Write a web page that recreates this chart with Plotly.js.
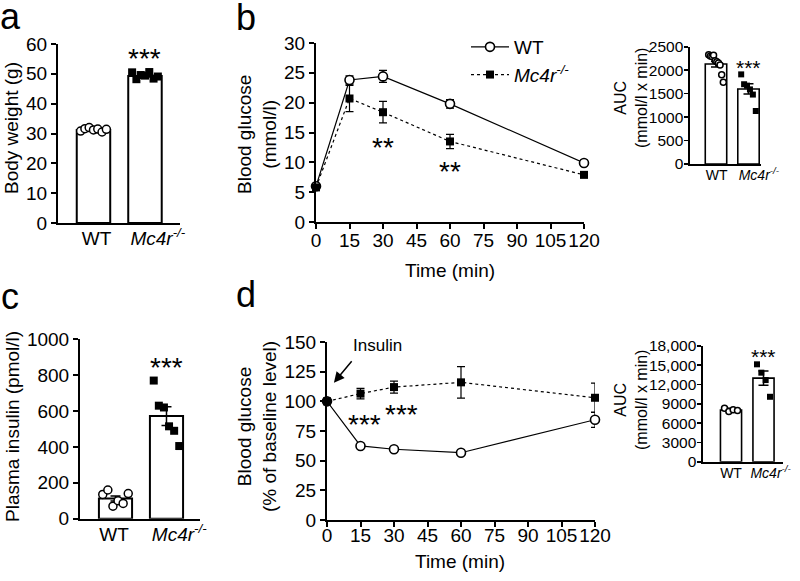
<!DOCTYPE html>
<html><head><meta charset="utf-8">
<script src="https://cdn.plot.ly/plotly-3.0.1.min.js"></script>
<style>html,body{margin:0;padding:0;background:#fff}#chart{width:800px;height:581px}</style>
</head><body><div id="chart"></div>
<script>
// ---------------- data ----------------
const groups = ['WT', '<i>Mc4r<sup>-/-</sup></i>'];

// a: body weight (g)
const bwMean = [31.2, 49.3];
const bwSem = [0.25, 0.35];
const bwWT = [30.8, 31.6, 32.0, 31.2, 31.5, 30.5, 31.4];
const bwKO = [50.5, 48.2, 49.6, 49.4, 50.6, 48.4, 49.1];

// b: glucose tolerance test (mmol/l)
const gttTime = [0, 15, 30, 60, 120];
const gttWT = [6.0, 23.8, 24.4, 19.8, 9.9];
const gttWTsem = [0.3, 0.7, 1.0, 0.7, 0.3];
const gttKO = [5.8, 20.7, 18.4, 13.5, 7.9];
const gttKOsem = [0.3, 2.2, 1.8, 1.2, 0.3];
const gttAucMean = [2130, 1600];
const gttAucSem = [60, 110];
const gttAucWT = [2330, 2300, 2290, 2320, 2200, 2180, 2150, 2110, 1900, 1740];
const gttAucKO = [1910, 1700, 1670, 1590, 1480, 1130];

// c: plasma insulin (pmol/l)
const insMean = [112, 572];
const insSem = [14, 52];
const insWT = [135, 160, 70, 100, 85, 140];
const insKO = [770, 630, 620, 515, 490, 405];

// d: insulin tolerance test (% of baseline)
const ittTime = [0, 15, 30, 60, 120];
const ittWT = [100, 62.4, 59.6, 56.7, 84.5];
const ittWTsem = [0, 1.2, 1.2, 1.2, 6.5];
const ittKO = [100, 106.5, 112, 116, 103];
const ittKOsem = [0, 4.5, 5, 13.3, 12.4];
const ittAucMean = [8050, 13000];
const ittAucSem = [250, 1100];
const ittAucWT = [8300, 7800, 8100, 7950];
const ittAucKO = [15150, 13850, 12700, 10100];
const ittAucTicks = [0, 3000, 6000, 9000, 12000, 15000, 18000];
const ittAucTickText = ['0', '3000', '6000', '9000', '12,000', '15,000', '18,000'];

// ---------------- helpers ----------------
const PX = v => v / 800;
const PY = v => 1 - v / 581;
const FONT = 'Liberation Sans, Arial, Helvetica, sans-serif';

function spreadX(c, n, spread) {
  return Array.from({length: n}, (_, k) => c + (n > 1 ? (k - (n - 1) / 2) * spread / (n - 1) : 0));
}
function barTraces(xa, ya, mean, sem, wt, ko, width, msize, spread, lw) {
  return [
    {type: 'bar', x: [0, 1], y: mean, width: width, xaxis: xa, yaxis: ya,
     marker: {color: 'white', line: {color: 'black', width: lw}},
     error_y: {type: 'data', array: sem, visible: true, color: 'black', thickness: 1.5, width: 5},
     showlegend: false, hoverinfo: 'skip'},
    {type: 'scatter', mode: 'markers', x: spreadX(0, wt.length, spread), y: wt, xaxis: xa, yaxis: ya,
     marker: {symbol: 'circle', size: msize, color: 'white', line: {color: 'black', width: 1.5}},
     showlegend: false, cliponaxis: false},
    {type: 'scatter', mode: 'markers', x: spreadX(1, ko.length, spread), y: ko, xaxis: xa, yaxis: ya,
     marker: {symbol: 'square', size: msize, color: 'black'},
     showlegend: false, cliponaxis: false}
  ];
}
function lineTraces(xa, ya, t, wt, wtSem, ko, koSem, legend) {
  return [
    {type: 'scatter', mode: 'lines+markers', x: t, y: wt, xaxis: xa, yaxis: ya, name: 'WT',
     line: {color: 'black', width: 1.2},
     marker: {symbol: 'circle', size: 9, color: 'white', line: {color: 'black', width: 1.6}},
     error_y: {type: 'data', array: wtSem, visible: true, color: 'black', thickness: 1.2, width: 4},
     showlegend: legend, cliponaxis: false},
    {type: 'scatter', mode: 'lines+markers', x: t, y: ko, xaxis: xa, yaxis: ya, name: groups[1],
     line: {color: 'black', width: 1.2, dash: 'dot'},
     marker: {symbol: 'square', size: 8, color: 'black'},
     error_y: {type: 'data', array: koSem, visible: true, color: 'black', thickness: 1.2, width: 4},
     showlegend: legend, cliponaxis: false}
  ];
}

const traces = [].concat(
  barTraces('x', 'y', bwMean, bwSem, bwWT, bwKO, 0.65, 8, 0.5, 2),
  lineTraces('x2', 'y2', gttTime, gttWT, gttWTsem, gttKO, gttKOsem, true),
  barTraces('x3', 'y3', gttAucMean, gttAucSem, gttAucWT, gttAucKO, 0.66, 6, 0.45, 1.6),
  barTraces('x4', 'y4', insMean, insSem, insWT, insKO, 0.65, 8, 0.5, 2),
  lineTraces('x5', 'y5', ittTime, ittWT, ittWTsem, ittKO, ittKOsem, false),
  barTraces('x6', 'y6', ittAucMean, ittAucSem, ittAucWT, ittAucKO, 0.65, 6, 0.4, 1.6)
);

function ax(extra) {
  return Object.assign({
    showline: true, linecolor: 'black', linewidth: 2, ticks: 'outside', ticklen: 5,
    tickwidth: 2, tickcolor: 'black', showgrid: false, zeroline: false,
    tickfont: {size: 19, color: 'black'}, fixedrange: true, tickangle: 0
  }, extra);
}
// label offsets (in category units) keep the group labels where the reference prints them
function catAx(domain, range, anchor, size, offs, standoff) {
  return ax({domain: domain, range: range, anchor: anchor, tickmode: 'array',
    tickvals: [0 + offs[0], 1 + offs[1]], ticktext: groups, ticks: '',
    tickfont: {size: size, color: 'black'}, ticklabelstandoff: standoff});
}
function insetY(extra) {
  return ax(Object.assign({tickfont: {size: 15.5, color: 'black'}, linewidth: 1.6, tickwidth: 1.6,
    ticklen: 4, ticklabelstandoff: -2}, extra));
}

const layout = {
  width: 800, height: 581,
  margin: {l: 0, r: 0, t: 0, b: 0},
  paper_bgcolor: 'white', plot_bgcolor: 'rgba(0,0,0,0)',
  font: {family: FONT, color: 'black', size: 18},
  showlegend: true,
  legend: {x: PX(466), y: PY(28), xanchor: 'left', yanchor: 'top', font: {size: 19},
           bgcolor: 'rgba(0,0,0,0)', itemwidth: 38, tracegroupgap: 0},
  bargap: 0,
  // a
  xaxis: catAx([PX(58), PX(180)], [-0.689, 1.68], 'y', 19, [0.06, 0.25], -3),
  yaxis: ax({domain: [PY(223), PY(44)], range: [0, 60], dtick: 10, anchor: 'x'}),
  // b
  xaxis2: ax({domain: [PX(316), PX(584)], range: [0, 120], dtick: 15, anchor: 'y2', ticklabelstandoff: -5}),
  yaxis2: ax({domain: [PY(222), PY(43)], range: [0, 30], dtick: 5, anchor: 'x2'}),
  // b AUC
  xaxis3: catAx([PX(690), PX(761)], [-0.8, 1.385], 'y3', 14, [0.02, 0.32], -3),
  yaxis3: insetY({domain: [PY(164), PY(46.7)], range: [0, 2500], dtick: 500, anchor: 'x3'}),
  // c
  xaxis4: catAx([PX(80), PX(200)], [-0.696, 1.657], 'y4', 19, [-0.03, 0.25], -3),
  yaxis4: ax({domain: [PY(518.7), PY(339.3)], range: [0, 1000], dtick: 200, anchor: 'x4'}),
  // d
  xaxis5: ax({domain: [PX(327), PX(595)], range: [0, 120], dtick: 15, anchor: 'y5', ticklabelstandoff: -8}),
  yaxis5: ax({domain: [PY(520), PY(342)], range: [0, 150], dtick: 25, anchor: 'x5'}),
  // d AUC
  xaxis6: catAx([PX(703), PX(783)], [-0.862, 1.6], 'y6', 14, [0, 0.22], -3),
  yaxis6: insetY({domain: [PY(461.7), PY(346)], range: [0, 18000], anchor: 'x6', tickmode: 'array',
              tickvals: ittAucTicks, ticktext: ittAucTickText}),
  annotations: []
};

const A = layout.annotations;
function paperText(text, x, y, size, angle) {
  A.push({text: text, x: PX(x), y: PY(y), xref: 'paper', yref: 'paper', xanchor: 'center',
          yanchor: 'middle', showarrow: false, textangle: angle || 0, font: {size: size, color: 'black'}});
}
function stars(text, xref, yref, x, y, size) {
  A.push({text: text, x: x, y: y, xref: xref, yref: yref, xanchor: 'center', yanchor: 'middle',
          showarrow: false, yshift: -0.22 * size, font: {size: size, color: 'black'}});
}
// panel letters
paperText('a', 10, 16, 36); paperText('b', 246, 17.5, 36);
paperText('c', 10, 296, 36); paperText('d', 246, 294.5, 36);
// axis titles
paperText('Body weight (g)', 12, 128, 19, -90);
paperText('Blood glucose<br>(mmol/l)', 257, 135, 19, -90);
paperText('Time (min)', 450, 270, 19);
paperText('AUC<br>(mmol/l x min)', 631, 98, 16, -90);
paperText('Plasma insulin (pmol/l)', 12, 427, 19, -90);
paperText('Blood glucose<br>(% of baseline level)', 257, 427, 19, -90);
paperText('Time (min)', 460, 561, 19);
paperText('AUC<br>(mmol/l x min)', 631, 400, 16, -90);
// significance stars
stars('***', 'x', 'y', 1, 57.1, 28);
stars('**', 'x2', 'y2', 30, 13.45, 28);
stars('**', 'x2', 'y2', 60, 9.43, 28);
stars('***', 'x3', 'y3', 1, 2147, 21);
stars('***', 'x4', 'y4', 1, 875, 28);
stars('***', 'x5', 'y5', 17, 85.7, 28);
stars('***', 'x5', 'y5', 33.4, 94.1, 28);
stars('***', 'x6', 'y6', 1, 17020, 21);
// insulin injection marker
paperText('Insulin', 377.5, 345, 17);
A.push({text: '', x: 3.1, y: 115.7, xref: 'x5', yref: 'y5', showarrow: true, ax: 19, ay: -23,
        arrowhead: 2, arrowsize: 1.4, arrowwidth: 1.5, arrowcolor: 'black', standoff: 0});

Plotly.newPlot('chart', traces, layout, {staticPlot: true, displayModeBar: false});
</script>
</body></html>
